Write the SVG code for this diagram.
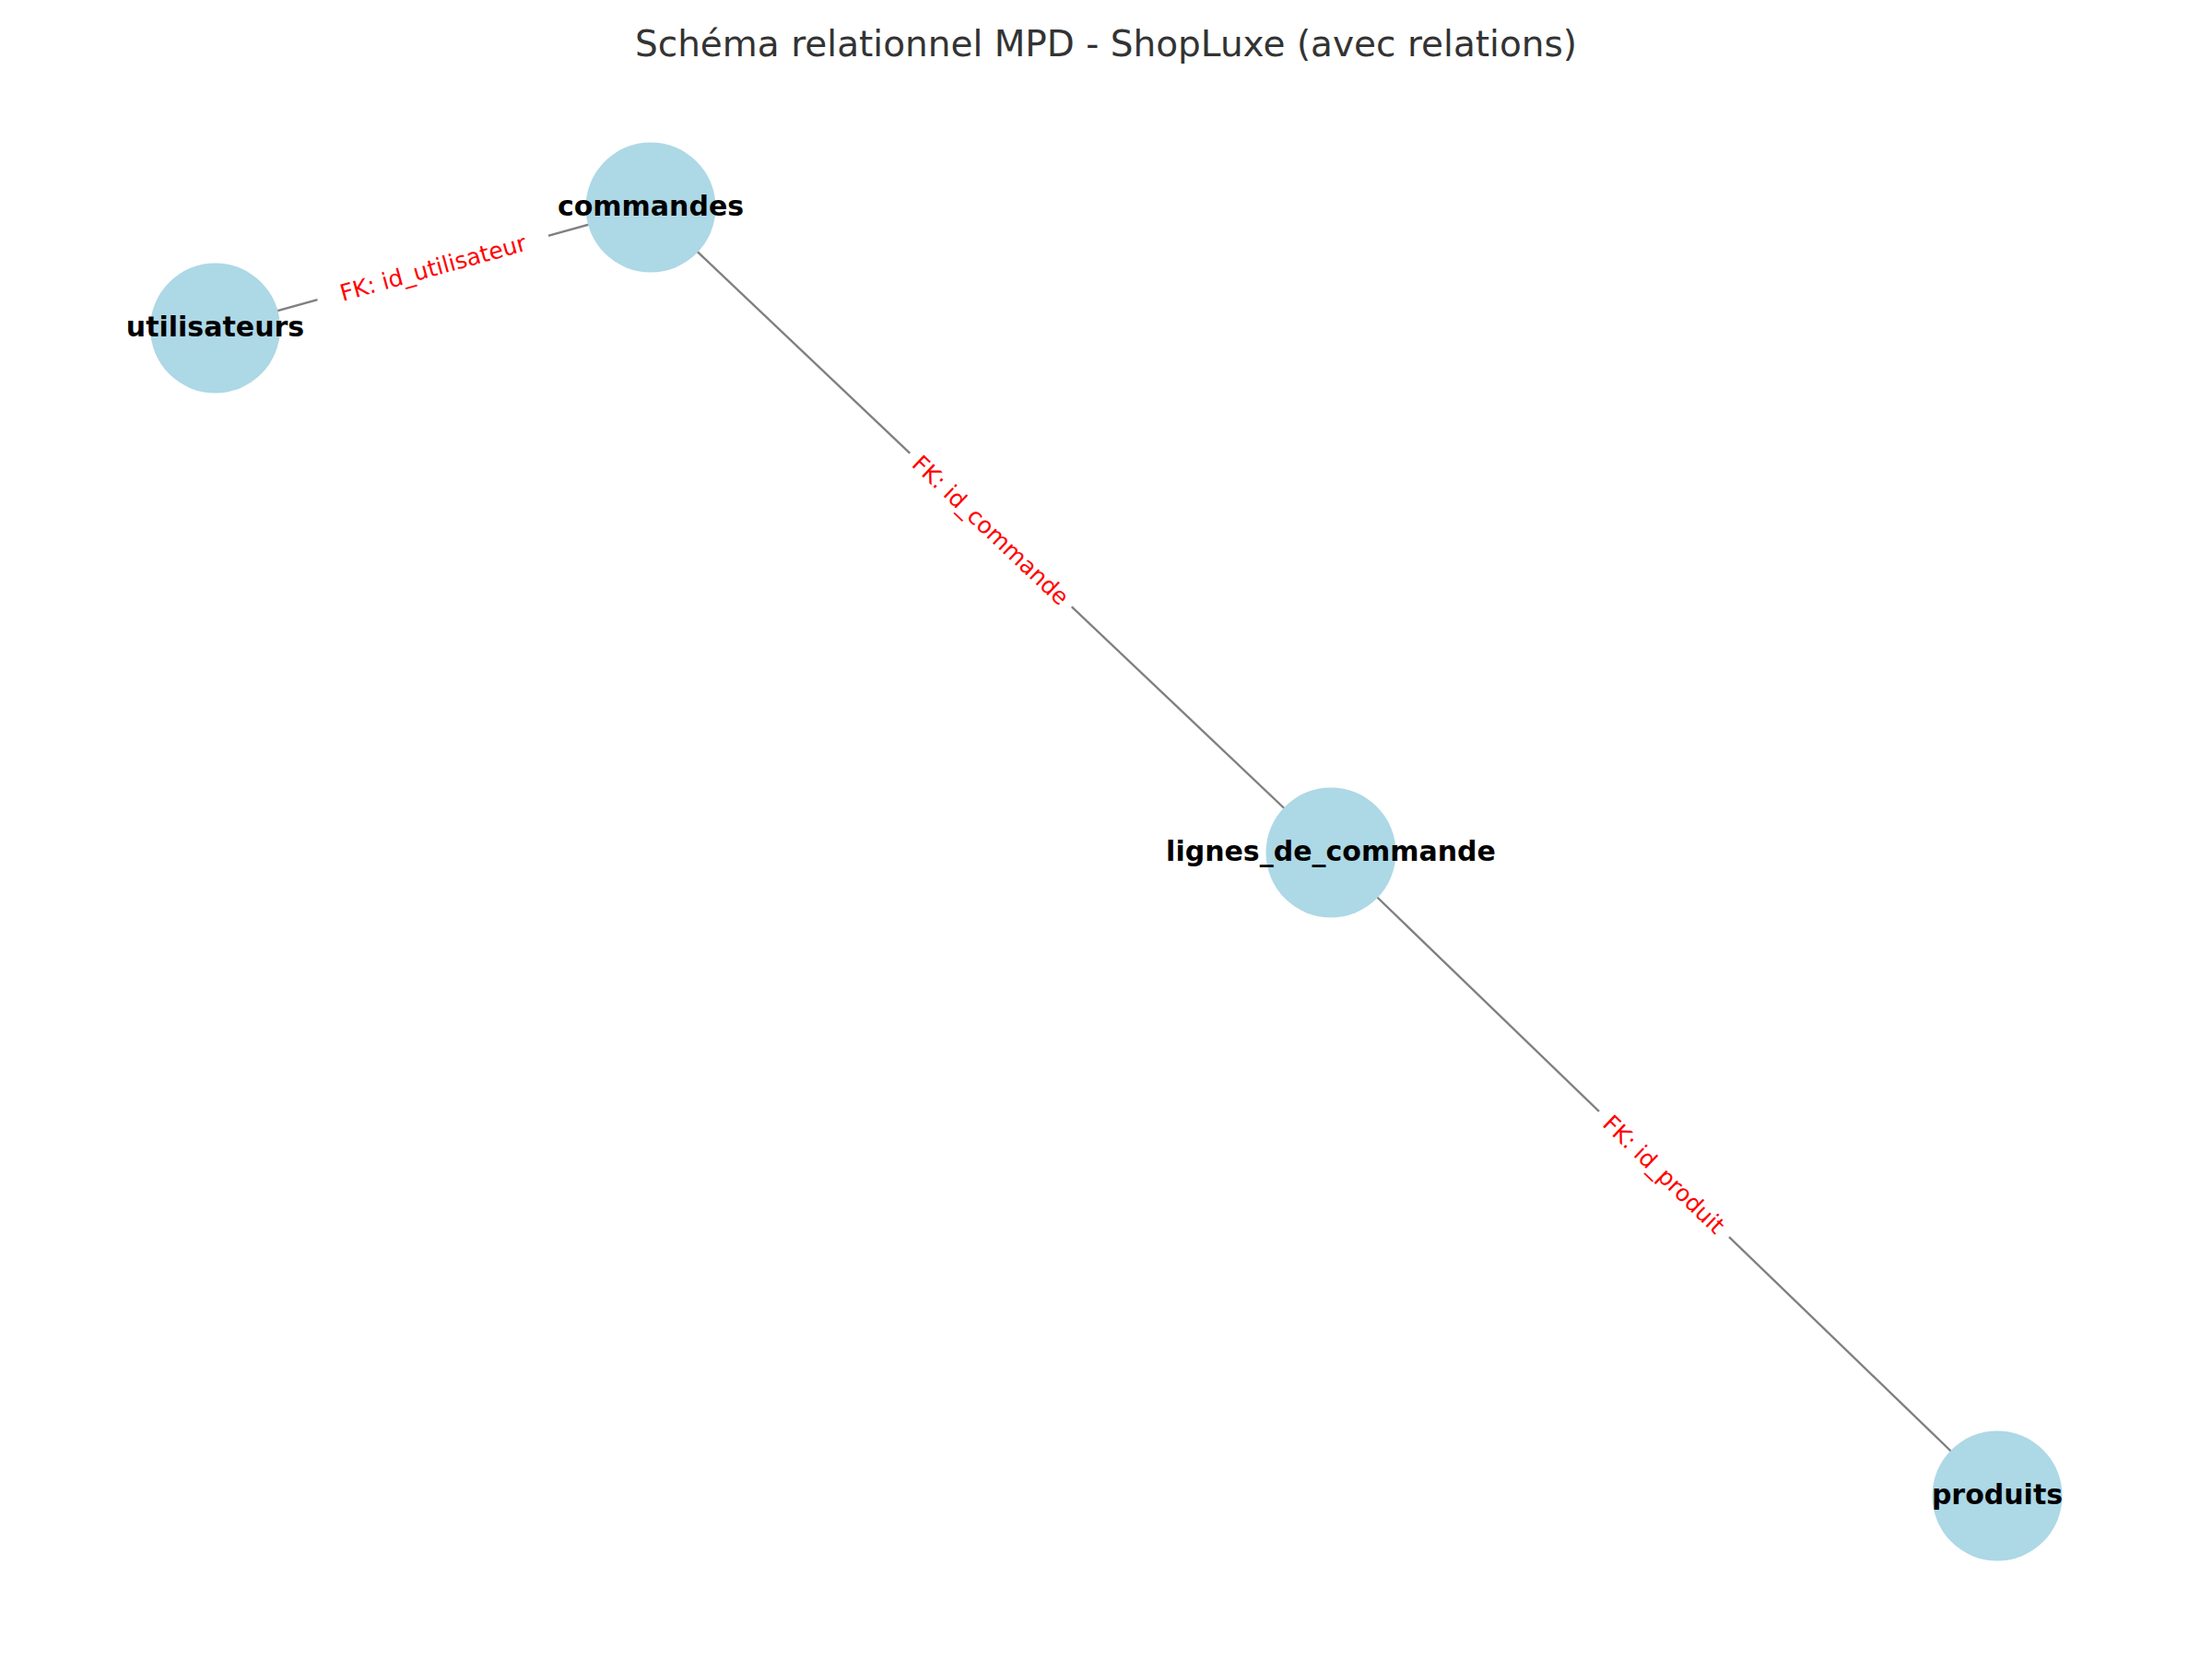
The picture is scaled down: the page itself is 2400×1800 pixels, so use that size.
<svg xmlns="http://www.w3.org/2000/svg" width="2400" height="1800" viewBox="0 0 2400 1800">
<style>
.edge{stroke:#808080;stroke-width:2.4;fill:none}
.node circle{fill:#ADD8E6}
.node text{font-family:"DejaVu Sans",sans-serif;font-weight:bold;font-size:30px;fill:#000;text-anchor:middle}
.elabel rect{fill:#fff}
.elabel text{font-family:"DejaVu Sans",sans-serif;font-size:25px;fill:#ff0000;text-anchor:middle}
.title{font-family:"DejaVu Sans",sans-serif;font-size:39px;fill:#333;text-anchor:middle}
</style>
<rect width="2400" height="1800" fill="#fff"/>
<text class="title" x="1200" y="61">Schéma relationnel MPD - ShopLuxe (avec relations)</text>
<g id="connectors">
<line class="edge" x1="233.5" y1="356" x2="706" y2="225"/>
<line class="edge" x1="706" y1="225" x2="1444" y2="925"/>
<line class="edge" x1="1444" y1="925" x2="2167" y2="1623"/>
<g class="elabel" transform="translate(469.75,290.5) rotate(-15.5)">
<rect x="-130" y="-18" width="260" height="36"/>
<text x="0" y="9">FK: id_utilisateur</text>
</g>
<g class="elabel" transform="translate(1075,575) rotate(43.5)">
<rect x="-121" y="-18" width="242" height="36"/>
<text x="0" y="9">FK: id_commande</text>
</g>
<g class="elabel" transform="translate(1805.5,1274) rotate(44)">
<rect x="-98" y="-18" width="196" height="36"/>
<text x="0" y="9">FK: id_produit</text>
</g>
</g>
<g id="node-utilisateurs" class="node">
<circle cx="233.5" cy="356" r="70.5"/>
<text x="233.5" y="365">utilisateurs</text>
</g>
<g id="node-commandes" class="node">
<circle cx="706" cy="225" r="70.5"/>
<text x="706" y="234">commandes</text>
</g>
<g id="node-lignes_de_commande" class="node">
<circle cx="1444" cy="925" r="70.5"/>
<text x="1444" y="934">lignes_de_commande</text>
</g>
<g id="node-produits" class="node">
<circle cx="2167" cy="1623" r="70.5"/>
<text x="2167" y="1632">produits</text>
</g>
</svg>
